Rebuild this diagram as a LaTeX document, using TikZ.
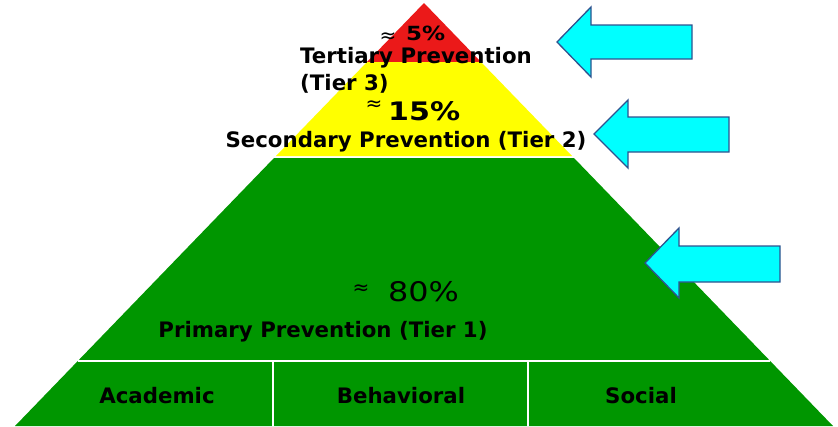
\documentclass[tikz,border=0pt]{standalone}
\usepackage{fontspec}
\setmainfont{DejaVu Sans}
\newfontfamily\pctfont[FakeStretch=1.18]{DejaVu Sans}
\definecolor{tgreen}{RGB}{0,150,0}
\definecolor{tyellow}{RGB}{255,255,0}
\definecolor{tred}{RGB}{235,25,25}
\definecolor{acyan}{RGB}{0,255,255}
\definecolor{aborder}{RGB}{47,82,143}
\begin{document}
\begin{tikzpicture}[x=1pt,y=-1pt,
  lbl/.style={inner sep=0pt,font=\fontsize{21.3}{25}\selectfont\bfseries,text=black},
  pct/.style={inner sep=0pt,text=black},
  approx/.style={inner sep=0pt,font=\fontsize{20}{22}\selectfont,text=black},
  bigarrow/.style={fill=acyan,draw=aborder,line width=1.3pt,line join=miter},
  divider/.style={draw=white,line width=2.5pt}]
\useasboundingbox (0,0) rectangle (838,426);
% pyramid layers
\fill[tred] (424,3) -- (481,62) -- (367,62) -- cycle;
\fill[tyellow] (367,62) -- (481,62) -- (572,156) -- (276,156) -- cycle;
\fill[tgreen] (274,158) -- (574,158) -- (833,426) -- (15,426) -- cycle;
% dividers
\coordinate (dl) at (78,361);
\coordinate (dr) at (770,361);
\coordinate (v1t) at (273,361);
\coordinate (v1b) at (273,426);
\coordinate (v2t) at (528,361);
\coordinate (v2b) at (528,426);
\draw[divider] (dl) -- (dr);
\draw[divider] (v1t) -- (v1b);
\draw[divider] (v2t) -- (v2b);
% texts
\node[approx] (a5) at (388,38) {≈};
\node[pct,anchor=base west,font=\pctfont\fontsize{19.5}{22}\selectfont\bfseries] (p5) at (406,40) {5\%};
\node[lbl,anchor=base west] (t3a) at (300,63) {Tertiary Prevention};
\node[lbl,anchor=base west] (t3b) at (300,90) {(Tier 3)};
\node[approx] (a15) at (374,106) {≈};
\node[pct,anchor=base west,font=\pctfont\fontsize{25.5}{28}\selectfont\bfseries] (p15) at (388,120) {15\%};
\node[lbl,anchor=base] (t2) at (406,147) {Secondary Prevention (Tier 2)};
\node[approx] (a80) at (361,290) {≈};
\node[pct,anchor=base west,font=\pctfont\fontsize{27}{30}\selectfont] (p80) at (388,301) {80\%};
\node[lbl,anchor=base] (t1) at (323,337) {Primary Prevention (Tier 1)};
\node[lbl,anchor=base] (acad) at (157,403) {Academic};
\node[lbl,anchor=base] (beh) at (401,403) {Behavioral};
\node[lbl,anchor=base] (soc) at (641,403) {Social};
% arrows
\draw[bigarrow] (557,42) -- (591,7) -- (591,25) -- (692,25) -- (692,59) -- (591,59) -- (591,77) -- cycle;
\draw[bigarrow] (594,134) -- (628,100) -- (628,117) -- (729,117) -- (729,152) -- (628,152) -- (628,168) -- cycle;
\draw[bigarrow] (645,263) -- (679,228) -- (679,246) -- (780,246) -- (780,282) -- (679,282) -- (679,298) -- cycle;
\end{tikzpicture}
\end{document}
